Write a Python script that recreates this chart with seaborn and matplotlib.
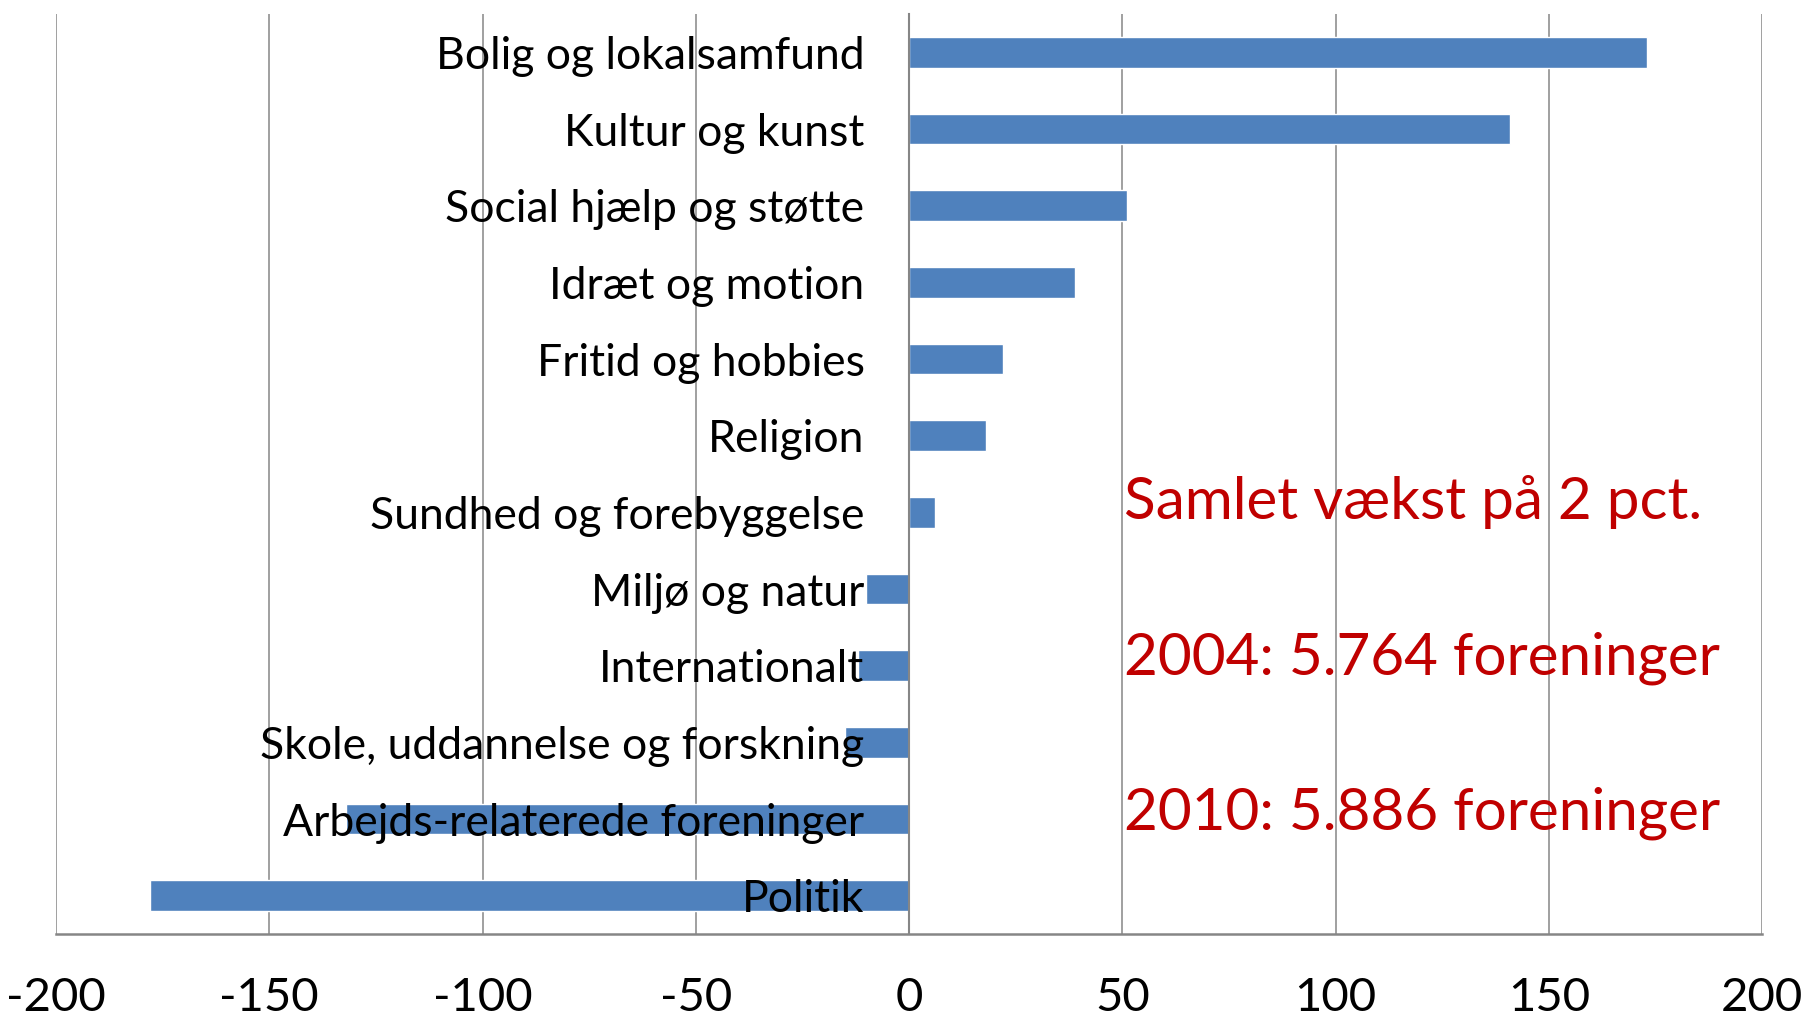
import numpy as np
import pandas as pd
import matplotlib.pyplot as plt
import seaborn as sns

# Data (change in number of associations, 2004-2010)
categories = ["Bolig og lokalsamfund", "Kultur og kunst", "Social hjælp og støtte",
              "Idræt og motion", "Fritid og hobbies", "Religion",
              "Sundhed og forebyggelse", "Miljø og natur", "Internationalt",
              "Skole, uddannelse og forskning", "Arbejds-relaterede foreninger", "Politik"]
values = [173, 141, 51, 39, 22, 18, 6, -10, -12, -15, -132, -178]
x_ticks = [-200, -150, -100, -50, 0, 50, 100, 150, 200]
notes = ["Samlet vækst på 2 pct.", "2004: 5.764 foreninger", "2010: 5.886 foreninger"]

df = pd.DataFrame({"Kategori": categories, "Ændring": values})

sns.set_style("white")
plt.rcParams['font.family'] = ['Lato', 'DejaVu Sans']
gray = "#868686"

fig = plt.figure(figsize=(18.02, 10.17), dpi=100)
ax = fig.add_axes([0.0311, 0.0816, 0.9467, 0.9046])

sns.barplot(data=df, x="Ændring", y="Kategori", orient="h", order=categories,
            color="#4F81BD", saturation=1, width=0.4, ax=ax, zorder=2)

ax.set_xlim(-200, 200)
ax.set_ylim(11.5, -0.5)
ax.set_xticks(x_ticks)
ax.set_xticklabels([str(t) for t in x_ticks])
ax.set_xlabel("")
ax.set_ylabel("")

# vertical gridlines behind the bars, category labels on top
ax.grid(axis="x", color=gray, linewidth=1.1)
ax.grid(axis="y", visible=False)
ax.xaxis.set_zorder(0.5)
ax.yaxis.set_zorder(3)

for s in ["top", "right"]:
    ax.spines[s].set_visible(False)
ax.spines["left"].set_position(("data", 0))
ax.spines["left"].set_color(gray)
ax.spines["left"].set_linewidth(1.5)
ax.spines["left"].set_zorder(2.6)
ax.spines["bottom"].set_color(gray)
ax.spines["bottom"].set_linewidth(1.8)

ax.tick_params(axis="x", which="major", direction="out", length=10, width=1.1,
               color=gray, labelsize=34, labelcolor="black", pad=21)
ax.set_yticks(np.arange(-0.5, len(categories), 1), minor=True)
ax.tick_params(axis="y", which="major", length=0, labelsize=32, labelcolor="black", pad=32)
ax.tick_params(axis="y", which="minor", direction="out", length=10, width=1.1, color=gray)

# annotation text
for y, txt in zip([5.87, 7.9, 9.92], notes):
    ax.text(50.5, y, txt, color="#C00000", fontsize=42, va="center", ha="left")

fig.savefig("out.png", dpi=100)
